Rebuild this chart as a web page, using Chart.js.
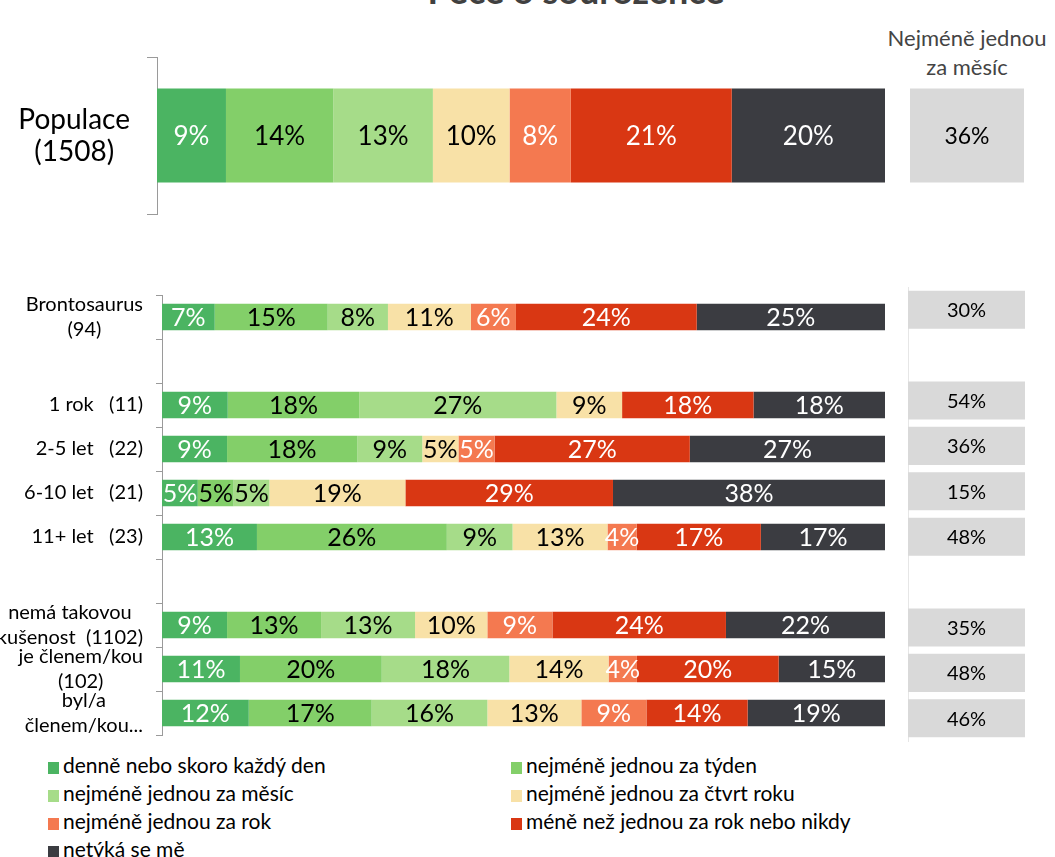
<!DOCTYPE html>
<html><head><meta charset="utf-8">
<script src="https://cdn.jsdelivr.net/npm/chart.js@4.4.0/dist/chart.umd.min.js"></script>
<style>
html,body{margin:0;padding:0;background:#fff}
body{width:1055px;height:857px;overflow:hidden;position:relative;font-family:Lato,"Open Sans",sans-serif}
canvas{position:absolute}
#title{position:absolute;left:326px;width:500px;text-align:center;top:-31px;font-size:36px;line-height:42px;font-weight:bold;color:#404040;white-space:nowrap}
#head{position:absolute;left:867px;width:200px;text-align:center;top:23px;font-size:22px;line-height:29px;color:#444}
.lg{position:absolute;height:28px;line-height:28px;font-size:21px;color:#000;white-space:nowrap}
.lg i{display:inline-block;width:11px;height:12px;margin-right:4px;vertical-align:-1px}
</style></head>
<body>
<div id="title">Péče o sourozence</div>
<div id="head">Nejméně jednou<br>za měsíc</div>
<canvas id="topMain" width="900" height="177" style="left:0;top:47px"></canvas>
<canvas id="topRight" width="155" height="177" style="left:900px;top:47px"></canvas>
<canvas id="botMain" width="900" height="460" style="left:0;top:285px"></canvas>
<canvas id="botRight" width="157" height="474" style="left:898px;top:277px"></canvas>
<div id="legend"></div>
<script>
// ---- data ----
const seriesNames = ['denně nebo skoro každý den','nejméně jednou za týden','nejméně jednou za měsíc','nejméně jednou za čtvrt roku','nejméně jednou za rok','méně než jednou za rok nebo nikdy','netýká se mě'];
const seriesColors = ['#4BB462','#83CF69','#A6DC89','#F8E1A7','#F47950','#D93713','#3B3C41'];
const labelColors = ['#fff','#000','#000','#000','#fff','#fff','#fff'];

const topCategories = [['Populace','(1508)']];
const topDenne = [9];
const topTyden = [14];
const topMesic = [13];
const topCtvrt = [10];
const topRok = [8];
const topMene = [21];
const topNetyka = [20];
const topMonthly = [36];

const botCategories = [['Brontosaurus','(94)'], '', '1 rok   (11)', '2-5 let   (22)', '6-10 let   (21)', '11+ let   (23)', '', ['nemá takovou','kušenost  (1102)'], ['je členem/kou','(102)'], ['byl/a','členem/kou...']];
const botDenne  = [7, null, 9, 9, 5, 13, null, 9, 11, 12];
const botTyden  = [15, null, 18, 18, 5, 26, null, 13, 20, 17];
const botMesic  = [8, null, 27, 9, 5, 9, null, 13, 18, 16];
const botCtvrt  = [11, null, 9, 5, 19, 13, null, 10, 14, 13];
const botRok    = [6, null, 0, 5, 0, 4, null, 9, 4, 9];
const botMene   = [24, null, 18, 27, 29, 17, null, 24, 20, 14];
const botNetyka = [25, null, 18, 27, 38, 17, null, 22, 15, 19];
const botMonthly = [30, null, 54, 36, 15, 48, null, 35, 48, 46];

// ---- helpers ----
const FONT = 'Lato, "Open Sans", sans-serif';
function buildDatasets(seriesList){
  const n = seriesList[0].length;
  const sums = [];
  for (let i=0;i<n;i++){ let s=0; seriesList.forEach(a=>{ if(a[i]!=null) s+=a[i]; }); sums.push(s); }
  return seriesList.map((arr, k)=>({
    label: seriesNames[k],
    data: arr.map((v,i)=> v==null ? null : v/sums[i]*100),
    rawValues: arr,
    labelColor: labelColors[k],
    backgroundColor: seriesColors[k],
    borderWidth: 0
  }));
}

const barLabels = {
  id:'barLabels',
  afterDatasetsDraw(chart, args, opts){
    const ctx = chart.ctx;
    chart.data.datasets.forEach((ds, di)=>{
      const meta = chart.getDatasetMeta(di);
      meta.data.forEach((el, i)=>{
        const raw = ds.rawValues[i];
        if (raw == null || raw === 0) return;
        const p = el.getProps(['x','base','y'], true);
        ctx.save();
        ctx.font = opts.font;
        ctx.fillStyle = ds.labelColor;
        ctx.textAlign = 'center';
        ctx.textBaseline = 'middle';
        ctx.fillText(raw + '%', (p.x + p.base)/2, p.y + 1);
        ctx.restore();
      });
    });
  }
};

const catLabels = {
  id:'catLabels',
  afterDraw(chart, args, opts){
    if (!opts || !opts.font) return;
    const s = chart.scales.y, ctx = chart.ctx;
    ctx.save();
    ctx.font = opts.font; ctx.fillStyle = '#000';
    ctx.textAlign = 'center'; ctx.textBaseline = 'middle';
    chart.data.labels.forEach((lab, i)=>{
      const lines = Array.isArray(lab) ? lab : [lab];
      if (!lines.join('').trim()) return;
      const w = Math.max(...lines.map(l=>ctx.measureText(l).width));
      const cx = opts.right - w/2;
      const yc = s.getPixelForTick(i);
      lines.forEach((l,k)=> ctx.fillText(l, cx, yc + (k - (lines.length-1)/2)*opts.lineHeight));
    });
    ctx.restore();
  }
};

function mainChart(id, labels, series, axisWidth, tickLen, catPct, labelFont, catOpts){
  return new Chart(document.getElementById(id), {
    type:'bar',
    data:{ labels, datasets: buildDatasets(series) },
    options:{
      indexAxis:'y', responsive:false, animation:false,
      layout:{ padding:{ top:10, bottom:10, left:0, right:15 } },
      datasets:{ bar:{ barPercentage:1, categoryPercentage:catPct } },
      plugins:{ legend:{display:false}, tooltip:{enabled:false}, barLabels:{ font: labelFont }, catLabels: catOpts },
      scales:{
        x:{ stacked:true, min:0, max:100, display:false },
        y:{ stacked:true, z:1,
            grid:{ drawOnChartArea:false, drawTicks:true, tickLength:tickLen, color:'#9a9a9a', offset:true },
            border:{ display:true, color:'#9a9a9a', width:1 },
            ticks:{ display:false },
            afterFit(s){ s.width = axisWidth; } }
      }
    },
    plugins:[barLabels, catLabels]
  });
}

function sideChart(id, labels, values, pad, catPct, font, borderColor){
  return new Chart(document.getElementById(id), {
    type:'bar',
    data:{ labels, datasets:[{ data: values.map(v=> v==null ? null : 1), rawValues: values, labelColor:'#000', backgroundColor:'#D9D9D9', borderWidth:0 }] },
    options:{
      indexAxis:'y', responsive:false, animation:false,
      layout:{ padding: pad },
      datasets:{ bar:{ barPercentage:1, categoryPercentage:catPct } },
      plugins:{ legend:{display:false}, tooltip:{enabled:false}, barLabels:{ font } },
      scales:{
        x:{ min:0, max:1, display:false },
        y:{ display: !!borderColor, grid:{display:false}, border:{ display: !!borderColor, color: borderColor || '#fff' }, ticks:{display:false}, afterFit(s){ s.width = 0; } }
      }
    },
    plugins:[barLabels]
  });
}

mainChart('topMain', topCategories, [topDenne, topTyden, topMesic, topCtvrt, topRok, topMene, topNetyka], 157, 10, 0.6,
  '26px ' + FONT, { font:'28px ' + FONT, right:130, lineHeight:32 });
sideChart('topRight', topCategories, topMonthly, {top:10,bottom:10,left:10,right:31}, 0.6, '23px ' + FONT, null);

mainChart('botMain', botCategories, [botDenne, botTyden, botMesic, botCtvrt, botRok, botMene, botNetyka], 162, 6, 0.6,
  '25px ' + FONT, { font:'20px ' + FONT, right:143, lineHeight:25 });
sideChart('botRight', botCategories, botMonthly, {top:10,bottom:10,left:10,right:30}, 0.84, '20px ' + FONT, '#e6e6e6');

// ---- legend ----
const legend = document.getElementById('legend');
seriesNames.forEach((name, k)=>{
  const d = document.createElement('div');
  d.className = 'lg';
  d.style.left = (k % 2 === 0 ? 48 : 511) + 'px';
  d.style.top = (751 + Math.floor(k/2)*28) + 'px';
  const sq = document.createElement('i');
  sq.style.background = seriesColors[k];
  d.appendChild(sq);
  d.appendChild(document.createTextNode(name));
  legend.appendChild(d);
});
</script>
</body></html>
